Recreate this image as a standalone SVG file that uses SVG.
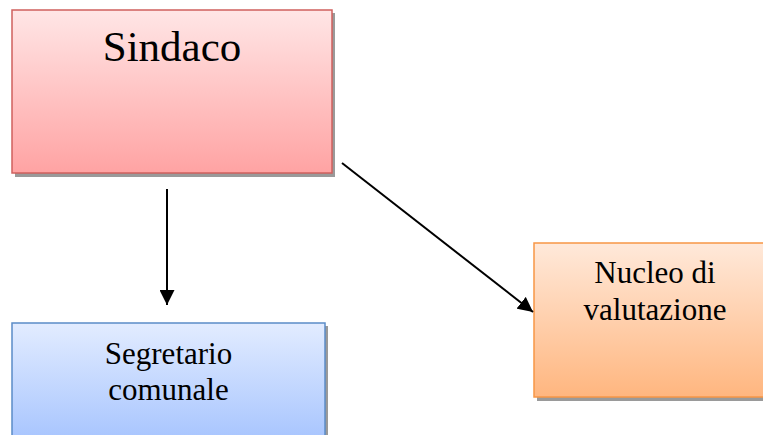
<svg xmlns="http://www.w3.org/2000/svg" width="763" height="435" viewBox="0 0 763 435">
<style>
.lbl{font-family:'Liberation Serif','Times New Roman',serif;fill:#000;text-anchor:middle}
.shadow{fill:#9a9a9a}
.conn{stroke:#000;stroke-width:2;fill:none;marker-end:url(#ah)}
</style>
<defs>
<linearGradient id="gRed" x1="0" y1="0" x2="0" y2="1"><stop offset="0" stop-color="#FFE6E6"/><stop offset="1" stop-color="#FFA3A3"/></linearGradient>
<linearGradient id="gBlue" x1="0" y1="0" x2="0" y2="1"><stop offset="0" stop-color="#E2ECFF"/><stop offset="1" stop-color="#A6C4FE"/></linearGradient>
<linearGradient id="gOrange" x1="0" y1="0" x2="0" y2="1"><stop offset="0" stop-color="#FFE9DA"/><stop offset="1" stop-color="#FFB67F"/></linearGradient>
<marker id="ah" viewBox="0 0 10 10" refX="10" refY="5" markerWidth="7.5" markerHeight="7.5" markerUnits="strokeWidth" orient="auto"><path d="M0,0 L10,5 L0,10 z" fill="#000"/></marker>
</defs>
<g id="sindaco">
<rect class="shadow" x="15" y="13" width="320" height="164"/>
<rect x="12" y="10" width="320" height="163" fill="url(#gRed)" stroke="#D0605E" stroke-width="1.5"/>
<text class="lbl" x="172" y="61" font-size="43">Sindaco</text>
</g>
<g id="segretario">
<rect class="shadow" x="15" y="326" width="313" height="115"/>
<rect x="12" y="323" width="313" height="120" fill="url(#gBlue)" stroke="#5B8CC8" stroke-width="1.5"/>
<text class="lbl" x="168.5" y="364" font-size="31">Segretario</text>
<text class="lbl" x="168.5" y="400" font-size="31">comunale</text>
</g>
<g id="nucleo">
<rect class="shadow" x="537" y="246" width="240" height="155"/>
<rect x="534" y="243" width="240" height="154" fill="url(#gOrange)" stroke="#F79646" stroke-width="1.5"/>
<text class="lbl" x="655" y="283" font-size="31">Nucleo di</text>
<text class="lbl" x="655" y="320" font-size="31">valutazione</text>
</g>
<g id="connectors">
<line class="conn" x1="167" y1="189" x2="167" y2="305"/>
<line class="conn" x1="342" y1="163" x2="533" y2="312"/>
</g>
</svg>
